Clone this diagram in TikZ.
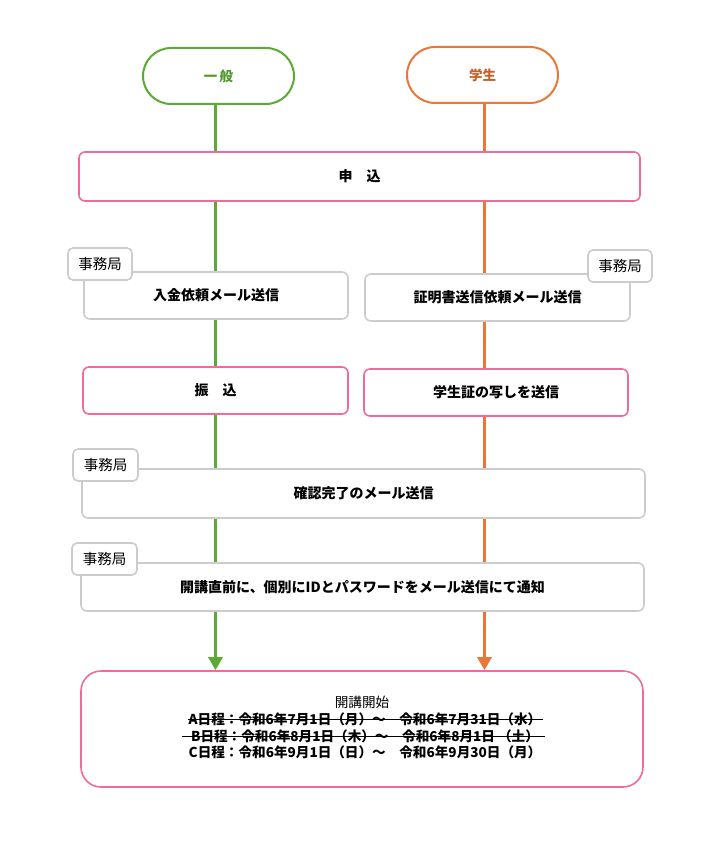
\documentclass[tikz,border=0pt]{standalone}
\usepackage{fontspec}
\setmainfont{Noto Sans CJK JP}
\usetikzlibrary{arrows.meta,backgrounds}
\definecolor{ippancol}{HTML}{5BAA33}
\definecolor{ippantxt}{HTML}{4E9A2C}
\definecolor{gakucol}{HTML}{E8783A}
\definecolor{gakutxt}{HTML}{C8602A}
\definecolor{pinkcol}{HTML}{F06A9B}
\definecolor{graycol}{HTML}{CCCCCC}

\begin{document}
\begin{tikzpicture}[x=1pt,y=-1pt,
    every node/.style={inner sep=0pt,font=\fontsize{13.6}{16}\selectfont},
    pill/.style={draw,line width=2pt,fill=white,rounded corners=28pt,minimum width=151pt,minimum height=56pt,font=\fontsize{13.5}{16}\selectfont\bfseries},
    pinkbox/.style={draw=pinkcol,line width=1.6pt,fill=white,rounded corners=6pt,minimum height=47pt,font=\fontsize{14}{16}\selectfont\bfseries},
    graybox/.style={draw=graycol,line width=1.6pt,fill=white,rounded corners=6pt,minimum height=47pt,font=\fontsize{14}{16}\selectfont\bfseries},
    officetag/.style={draw=graycol,line width=1.6pt,fill=white,rounded corners=5pt,minimum width=64pt,minimum height=32pt,font=\fontsize{14.5}{16}\selectfont},
    dateline/.style={font=\fontsize{13.6}{16}\selectfont\bfseries},
    flowline/.style={line width=3pt,-{Triangle[width=14pt,length=13pt]}}]
    \useasboundingbox (0,0) rectangle (720,842);
    % start
    \node[pill,draw=ippancol,text=ippantxt] (ippan) at (218.5,76) {一\,般};
    \node[pill,draw=gakucol,text=gakutxt] (gakusei) at (482.5,75) {学生};
    % steps
    \node[pinkbox,minimum width=561pt,minimum height=49pt] (moushikomi) at (359.5,176.5) {申　込};
    \node[graybox,minimum width=264pt] (nyukin) at (216,295.5) {入金依頼メール送信};
    \node[officetag] (nyukintag) at (100,264) {事務局};
    \node[graybox,minimum width=265pt] (shoumei) at (497.5,297.5) {証明書送信依頼メール送信};
    \node[officetag] (shoumeitag) at (620,266) {事務局};
    \node[pinkbox,minimum width=265pt] (furikomi) at (215.5,390.5) {振　込};
    \node[pinkbox,minimum width=264pt] (gakuseisho) at (496,392.5) {学生証の写しを送信};
    \node[graybox,minimum width=563pt,minimum height=49pt] (kakunin) at (363.5,493.5) {確認完了のメール送信};
    \node[officetag,minimum width=65pt] (kakunintag) at (105.5,465) {事務局};
    \node[graybox,minimum width=563pt,minimum height=48pt] (tsuchi) at (362.5,587) {開講直前に、個別にIDとパスワードをメール送信にて通知};
    \node[officetag,minimum width=65pt] (tsuchitag) at (104.5,559) {事務局};
    % end
    \node[draw=pinkcol,line width=1.6pt,fill=white,rounded corners=20pt,minimum width=562pt,minimum height=116pt] (kaikou) at (362,729) {};
    \node (title) at (362,702.5) {開講開始};
    \node[dateline] (lineA) at (365,719.5) {A日程：令和6年7月1日（月）～　令和6年7月31日（水）};
    \node[dateline] (lineB) at (365,736) {B日程：令和6年8月1日（木）～　令和6年8月1日 （土）};
    \node[dateline] (lineC) at (365,752.5) {C日程：令和6年9月1日（日）～　令和6年9月30日（月）};
    \draw[line width=1pt] ([xshift=-1pt]lineA.west) -- ([xshift=2pt]lineA.east);
    \draw[line width=1pt] ([xshift=-9pt]lineB.west) -- ([xshift=6pt]lineB.east);
    % flow lines
    \begin{scope}[on background layer]
        \draw[flowline,ippancol] ([xshift=-3pt]ippan.south) -- ([xshift=-3pt]ippan.south |- kaikou.north);
        \draw[flowline,gakucol] ([xshift=2pt]gakusei.south) -- ([xshift=2pt]gakusei.south |- kaikou.north);
    \end{scope}
\end{tikzpicture}
\end{document}
